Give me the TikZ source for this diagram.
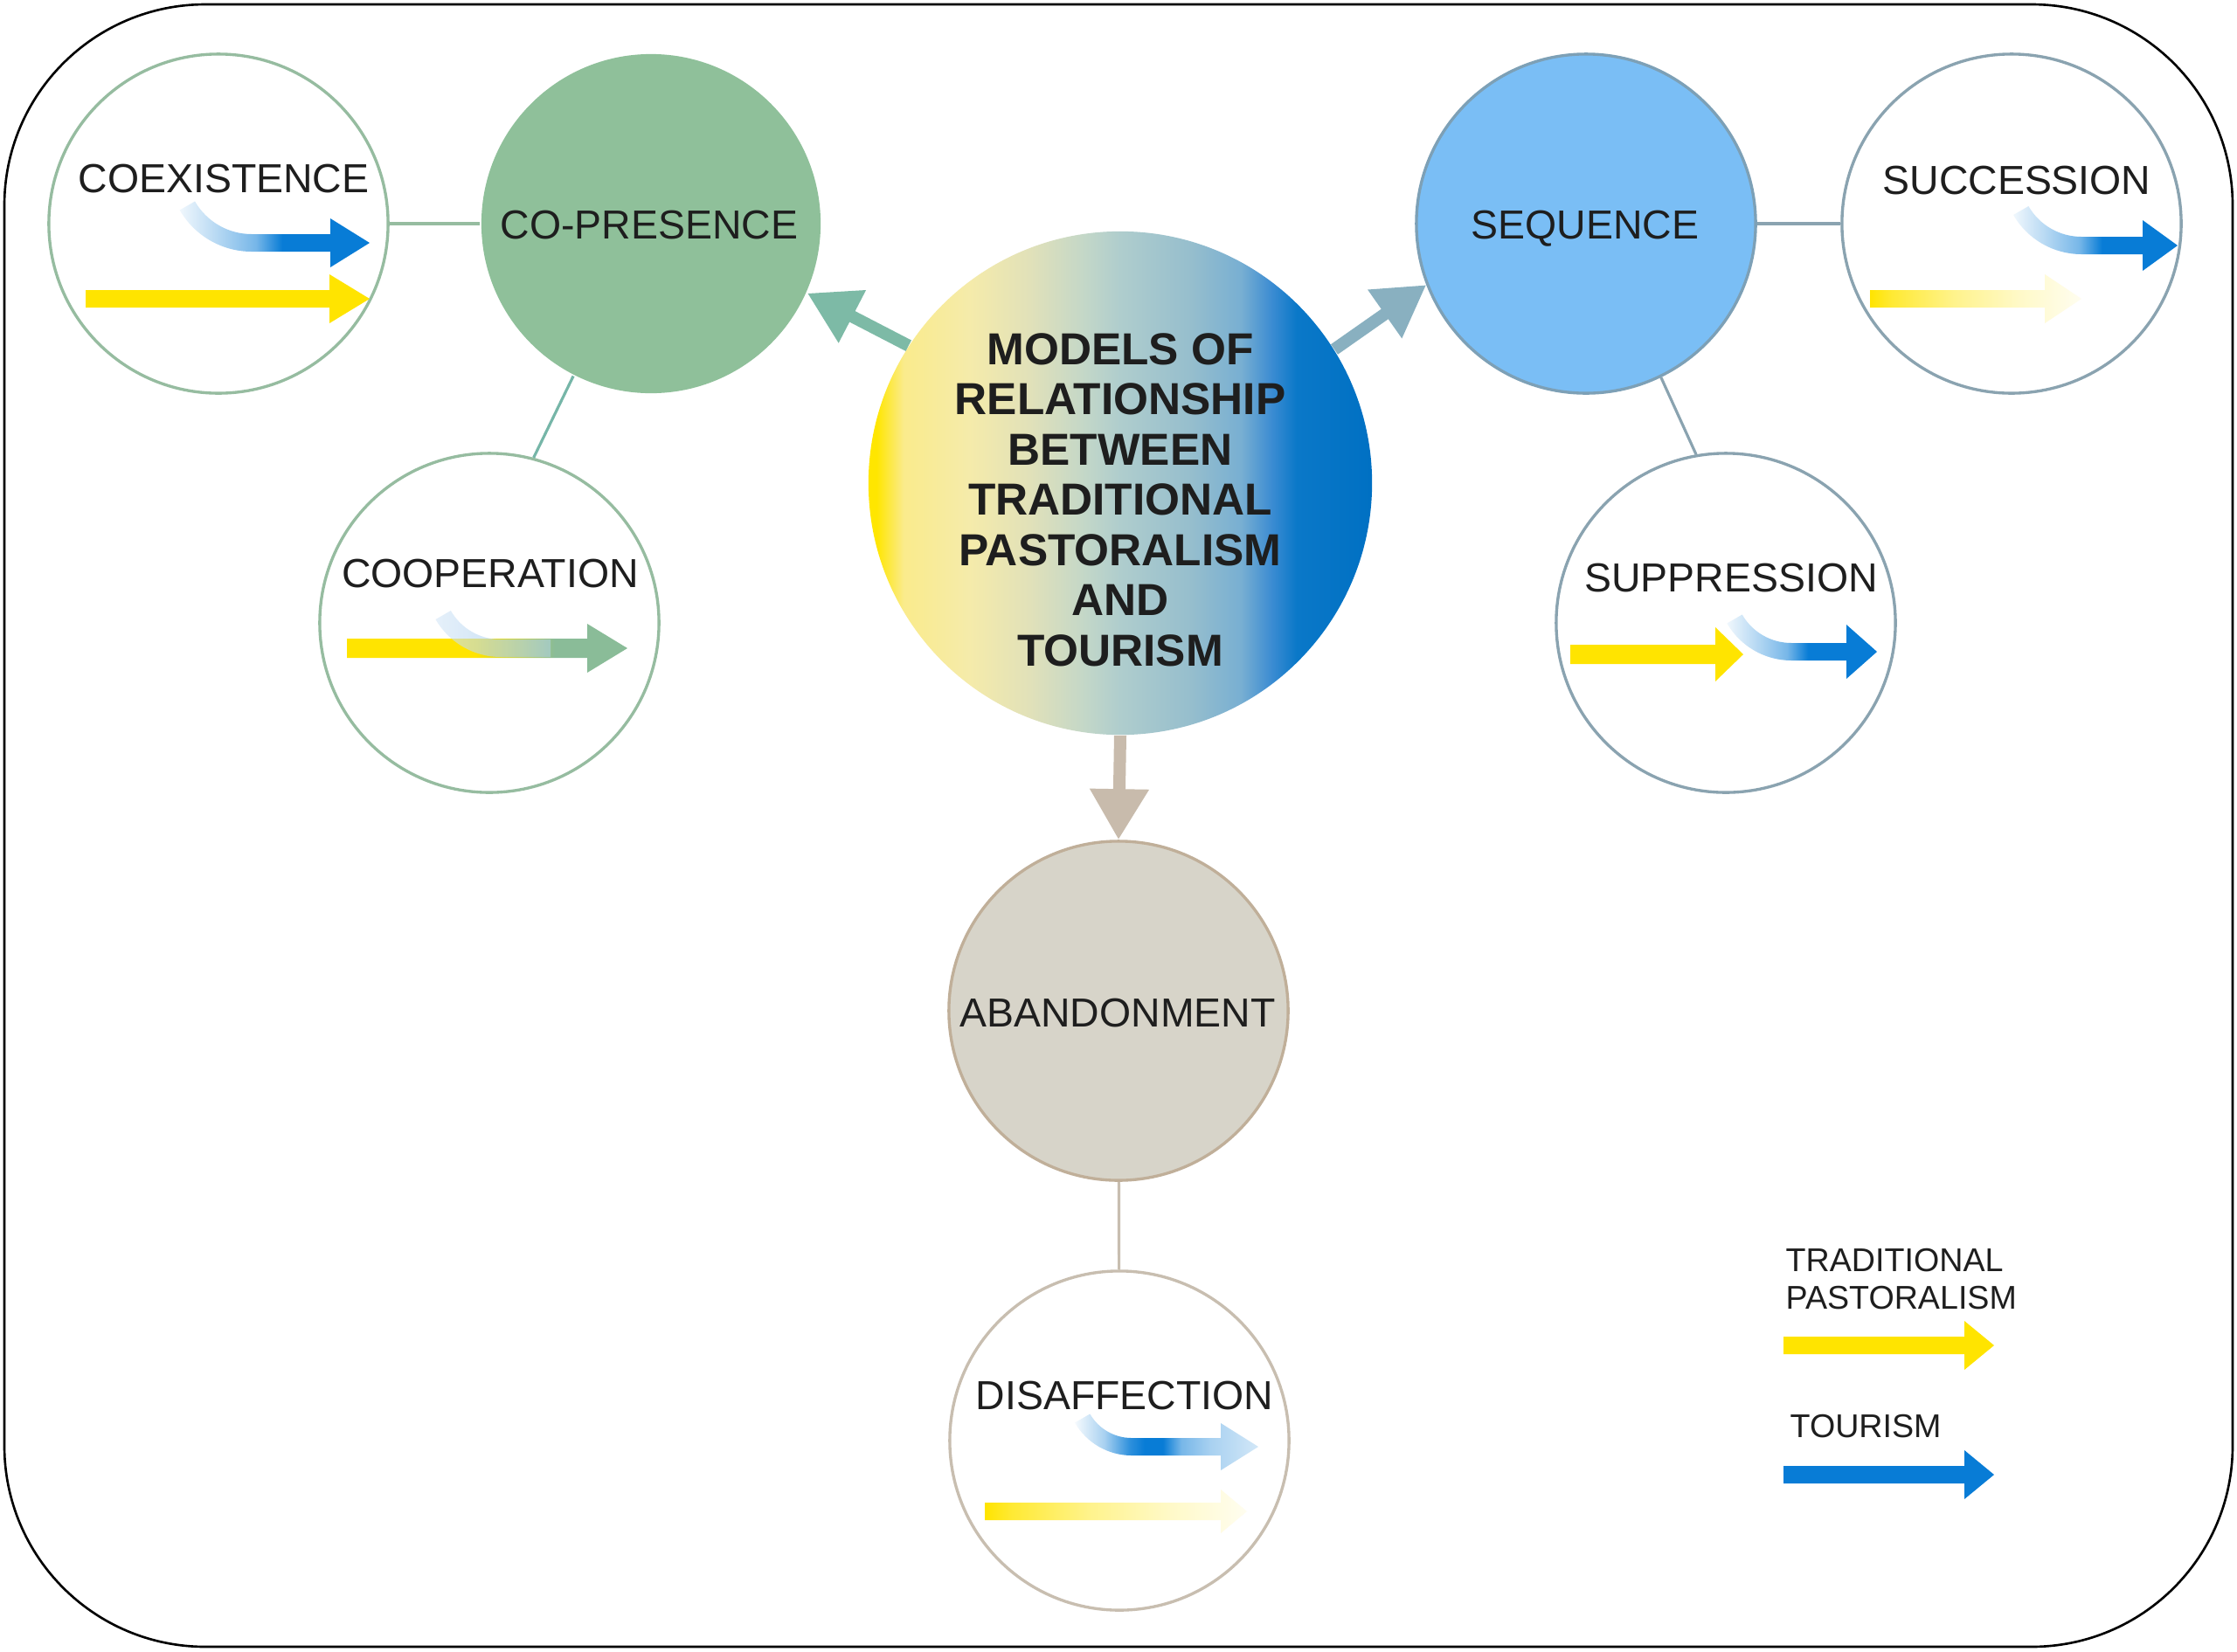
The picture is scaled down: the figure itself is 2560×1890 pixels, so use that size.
\documentclass[tikz,border=0pt]{standalone}
\usepackage{fontspec}
\setmainfont{Liberation Sans}
\usetikzlibrary{arrows.meta,calc}

\definecolor{tyellow}{RGB}{255,228,0}
\definecolor{tblue}{RGB}{8,124,214}
\definecolor{cgreen}{RGB}{143,192,154}
\definecolor{cgreenline}{RGB}{150,188,160}
\definecolor{cteal}{RGB}{118,182,168}
\definecolor{arrowg}{RGB}{125,186,166}
\definecolor{seqfill}{RGB}{122,190,245}
\definecolor{seqline}{RGB}{125,160,182}
\definecolor{grayblue}{RGB}{138,163,176}
\definecolor{seqarrow}{RGB}{137,176,192}
\definecolor{abfill}{RGB}{215,212,201}
\definecolor{abline}{RGB}{192,175,153}
\definecolor{abarrow}{RGB}{200,187,172}
\definecolor{disline}{RGB}{200,190,176}
\definecolor{txt}{RGB}{30,30,30}
\definecolor{coopgreen}{RGB}{138,188,152}
\definecolor{coopblue}{RGB}{185,215,242}

\definecolor{hc0}{RGB}{255,230,0}
\definecolor{hc1}{RGB}{250,235,140}
\definecolor{hc2}{RGB}{245,235,170}
\definecolor{hc3}{RGB}{225,225,185}
\definecolor{hc4}{RGB}{195,215,200}
\definecolor{hc5}{RGB}{175,205,205}
\definecolor{hc6}{RGB}{150,190,205}
\definecolor{hc7}{RGB}{120,175,210}
\definecolor{hc8}{RGB}{60,140,210}
\definecolor{hc9}{RGB}{10,120,200}
\definecolor{hc10}{RGB}{0,112,195}

\pgfdeclarehorizontalshading{centershade}{100bp}{color(0bp)=(hc0); color(25bp)=(hc0); color(25.8bp)=(hc0); color(28.5bp)=(hc1); color(35bp)=(hc2); color(41bp)=(hc3); color(46.5bp)=(hc4); color(50bp)=(hc5); color(57bp)=(hc6); color(62bp)=(hc7); color(65bp)=(hc8); color(67.5bp)=(hc9); color(75bp)=(hc10); color(100bp)=(hc10)}
\pgfdeclarehorizontalshading{bluefade}{100bp}{color(0bp)=(white); color(25bp)=(tblue!6!white); color(35bp)=(tblue!30!white); color(45bp)=(tblue!55!white); color(52bp)=(tblue); color(100bp)=(tblue)}
\pgfdeclarehorizontalshading{disblue}{100bp}{color(0bp)=(white); color(25bp)=(tblue!4!white); color(33bp)=(tblue!35!white); color(40bp)=(tblue!85!white); color(44bp)=(tblue); color(49bp)=(tblue); color(54bp)=(tblue!55!white); color(62bp)=(tblue!35!white); color(75bp)=(tblue!18!white); color(100bp)=(tblue!18!white)}
\pgfdeclarehorizontalshading{yellowfade}{100bp}{color(0bp)=(tyellow); color(25bp)=(tyellow); color(30bp)=(tyellow!80!white); color(45bp)=(tyellow!45!white); color(60bp)=(tyellow!22!white); color(75bp)=(tyellow!6!white); color(100bp)=(tyellow!6!white)}
\pgfdeclarehorizontalshading{coopbase}{100bp}{color(0bp)=(tyellow); color(25bp)=(tyellow); color(48bp)=(tyellow); color(56bp)=(coopgreen!55!tyellow); color(62bp)=(coopgreen); color(100bp)=(coopgreen)}
\pgfdeclarehorizontalshading{coopcurve}{100bp}{color(0bp)=(coopblue!60!white); color(25bp)=(coopblue!60!white); color(45bp)=(coopblue); color(75bp)=(coopblue!80!coopgreen); color(100bp)=(coopblue!80!coopgreen)}

% straight arrow: x0, xhead, xtip, yc, half shaft, half head, options
\newcommand\sarrow[7]{\path[#7] (#1,#4-#5) -- (#2,#4-#5) -- (#2,#4-#6) -- (#3,#4) -- (#2,#4+#6) -- (#2,#4+#5) -- (#1,#4+#5) -- cycle;}
% curved arrow: cx, yc, R, start angle, xhead, xtip, half head, options
\newcommand\carrow[8]{\path[#8] ($(#1,#2-#3)+(#4:#3+10)$) arc[start angle=#4, end angle=90, radius=#3+10] -- (#5,#2+10) -- (#5,#2+#7) -- (#6,#2) -- (#5,#2-#7) -- (#5,#2-10) -- (#1,#2-10) arc[start angle=90, end angle=#4, radius=#3-10] -- cycle;}

\tikzset{
  smallcirc/.style={circle, minimum size=3.88cm, inner sep=0pt, line width=0.95pt, fill=white},
  lbl/.style={font=\fontsize{13.2pt}{15pt}\selectfont, text=txt, inner sep=0pt, anchor=base},
  legtxt/.style={font=\fontsize{10.7pt}{12pt}\selectfont, text=txt, inner sep=0pt, anchor=base west},
  conn/.style={line width=0.9pt},
  bigarrow/.style={line width=0.14cm, -{Triangle[width=0.64cm,length=0.58cm]}},
  titletxt/.style={font=\fontsize{14.6pt}{16.35pt}\selectfont\bfseries, text=txt, inner sep=0pt, align=center}
}

\begin{document}
\begin{tikzpicture}[x=0.01cm, y=-0.01cm]
\useasboundingbox (0,0) rectangle (2560,1890);
\fill[white] (0,0) rectangle (2560,1890);
\draw[line width=0.75pt, rounded corners=2.3cm] (5,5) rectangle (2555,1885);

% circles
\node[smallcirc, draw=cgreenline] (coex) at (250,256) {};
\node[smallcirc, fill=cgreen] (copres) at (745,256) {};
\node[smallcirc, draw=cgreenline] (coop) at (560,713) {};
\node[circle, minimum size=5.76cm, inner sep=0pt, shading=centershade] (hub) at (1282,553) {};
\node[smallcirc, fill=seqfill, draw=seqline] (seq) at (1815,256) {};
\node[smallcirc, draw=grayblue] (succ) at (2302,256) {};
\node[smallcirc, draw=grayblue] (supp) at (1975,713) {};
\node[smallcirc, fill=abfill, draw=abline] (aband) at (1280,1157) {};
\node[smallcirc, draw=disline] (disaff) at (1281,1649) {};

% connectors
\draw[conn, draw=cgreenline] (coex) -- (copres);
\draw[conn, draw=cteal] (copres.243) -- (coop.75);
\draw[conn, draw=grayblue] (seq) -- (succ);
\draw[conn, draw=grayblue] (seq.296) -- (supp.100);
\draw[conn, draw=disline] (aband) -- (disaff);
\draw[bigarrow, color=arrowg] (hub.147) -- (copres.336);
\draw[bigarrow, color=seqarrow] (hub.32.5) -- (seq.201);
\draw[bigarrow, color=abarrow] (hub.south) -- (aband.north);

% COEXISTENCE arrows
\carrow{288}{278}{85}{150}{378}{423}{28}{shade, shading=bluefade}
\sarrow{98}{377}{423}{342}{10}{28}{fill=tyellow}

% COOPERATION arrows
\sarrow{397}{672}{718}{742}{11}{28}{shade, shading=coopbase}
\path[shade, shading=coopcurve, opacity=0.6] ($(573,666)+(150:86)$) arc[start angle=150, end angle=90, radius=86] -- (630,752) -- (630,732) -- (573,732) arc[start angle=90, end angle=150, radius=66] -- cycle;

% SUCCESSION arrows
\carrow{2382}{281}{80}{150}{2452}{2492}{29}{shade, shading=bluefade}
\sarrow{2140}{2340}{2382}{342}{10}{28}{shade, shading=yellowfade}

% SUPPRESSION arrows
\sarrow{1797}{1963}{1995}{749}{11}{31}{fill=tyellow}
\carrow{2050}{746}{75}{150}{2113}{2148}{31}{shade, shading=bluefade}

% DISAFFECTION arrows
\carrow{1295}{1656}{65}{150}{1397}{1440}{27}{shade, shading=disblue}
\sarrow{1127}{1397}{1427}{1730}{10}{25}{shade, shading=yellowfade}

% legend arrows
\sarrow{2041}{2248}{2282}{1540}{10}{28}{fill=tyellow}
\sarrow{2041}{2248}{2282}{1688}{10}{28}{fill=tblue}

% texts
\node[lbl] (tcoex) at (256,220) {COEXISTENCE};
\node[lbl] (tcopres) at (743,273) {CO-PRESENCE};
\node[lbl] (tcoop) at (561,672) {COOPERATION};
\node[lbl] (tseq) at (1814,273) {SEQUENCE};
\node[lbl] (tsucc) at (2308,222) {SUCCESSION};
\node[lbl] (tsupp) at (1981,677) {SUPPRESSION};
\node[lbl] (taband) at (1279,1175) {ABANDONMENT};
\node[lbl] (tdisaff) at (1287,1613) {DISAFFECTION};
\node[titletxt] (title) at (1282,572) {MODELS OF\\RELATIONSHIP\\BETWEEN\\TRADITIONAL\\PASTORALISM\\AND\\TOURISM};
\node[legtxt] (leg1) at (2043,1455) {TRADITIONAL};
\node[legtxt] (leg2) at (2043,1498) {PASTORALISM};
\node[legtxt] (leg3) at (2048,1645) {TOURISM};
\end{tikzpicture}
\end{document}
